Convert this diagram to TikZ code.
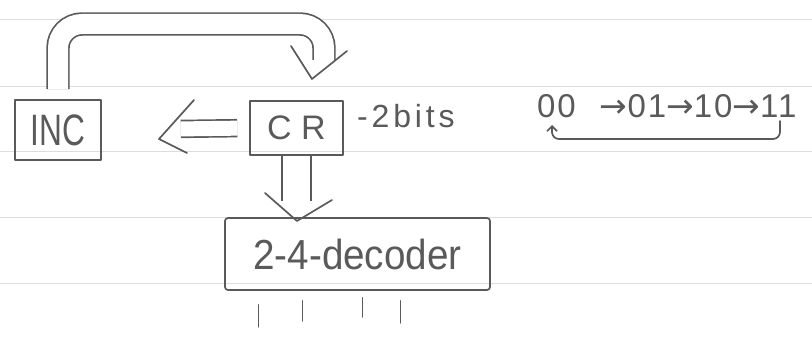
\documentclass[tikz,border=0pt]{standalone}
\usepackage{fontspec}
\setmainfont{Liberation Sans}
\newfontfamily\arrowfont{DejaVu Sans}
\usetikzlibrary{arrows.meta,calc}
\definecolor{pencil}{HTML}{5A5A5A}
\definecolor{ruling}{HTML}{DDDDDD}

\begin{document}
\begin{tikzpicture}[x=1pt,y=-1pt,
  pen/.style={draw=pencil, line width=1.7pt, line cap=round, line join=round},
  box/.style={pen, rectangle, inner sep=0pt, text=pencil},
  bus/.style={draw=pencil, line width=1.7pt, double=white, line cap=butt},
  lbl/.style={text=pencil, inner sep=0pt},
]
\useasboundingbox (0,0) rectangle (812,337);
\fill[white] (0,0) rectangle (812,337);

% ruled paper
\foreach \y in {19,86,151,217,283}
  \draw[ruling, line width=0.7pt] (0,\y) -- (812,\y);

% blocks
\node[box, minimum width=86pt, minimum height=60pt,
      font=\fontsize{44}{44}\selectfont] (inc) at (58,130) {\scalebox{0.72}[1]{INC}};
\node[box, minimum width=93pt, minimum height=54pt,
      font=\fontsize{34}{34}\selectfont] (cr) at (296.5,128) {C R};
\node[box, minimum width=265pt, minimum height=72pt, rounded corners=3pt,
      font=\fontsize{42}{42}\selectfont] (dec) at (357.5,254) {\scalebox{0.92}[1]{2-4-decoder}};

% labels
\node[lbl, anchor=west, font=\fontsize{32}{32}\selectfont\addfontfeature{LetterSpace=12}]
  (bits) at (357,116) {-2bits};
\node[lbl, anchor=west, font=\fontsize{33}{33}\selectfont\addfontfeature{LetterSpace=6}]
  (seq) at (537,106) {00\hspace{24pt}{\arrowfont →}01{\arrowfont →}10{\arrowfont →}11};

% counter feeds back into itself
\coordinate (loopTop) at (324,24);
\coordinate (loopEnd) at (324,60);
\draw[bus, double distance=20pt, rounded corners=24pt, shorten <=10pt]
  (inc.north) |- (loopTop) -- (loopEnd);
\coordinate (tipTop) at (312,79);
\draw[pen] (291,46) -- (tipTop) -- (347,51);

% CR to INC
\draw[bus, double distance=15pt, shorten <=12pt, shorten >=79pt] (cr.west) -- (inc.east);
\coordinate (tipInc) at (159,139);
\draw[pen] (194,100) -- (tipInc) -- (187,153);

% CR to decoder
\draw[bus, double distance=27pt, shorten >=16pt] (cr.south) -- (cr.south |- dec.north);
\coordinate (tipDec) at (297,221);
\draw[pen] (265,193) -- (tipDec) -- (332,200);

% decoder outputs
\foreach \dx/\top/\len in {-99/14/22, -55/10/20, 5/7/19, 43/10/22}
  \draw[pen] ([xshift=\dx pt, yshift=-\top pt]dec.south) -- ++(0,\len);

% wrap-around of the count
\coordinate (wrapA) at (780,121);
\coordinate (wrapB) at (552,125);
\draw[pen, rounded corners=7pt, -{Straight Barb[length=5pt,width=10pt]}]
  (wrapA) -- ++(0,18) -| (wrapB);
\end{tikzpicture}
\end{document}
